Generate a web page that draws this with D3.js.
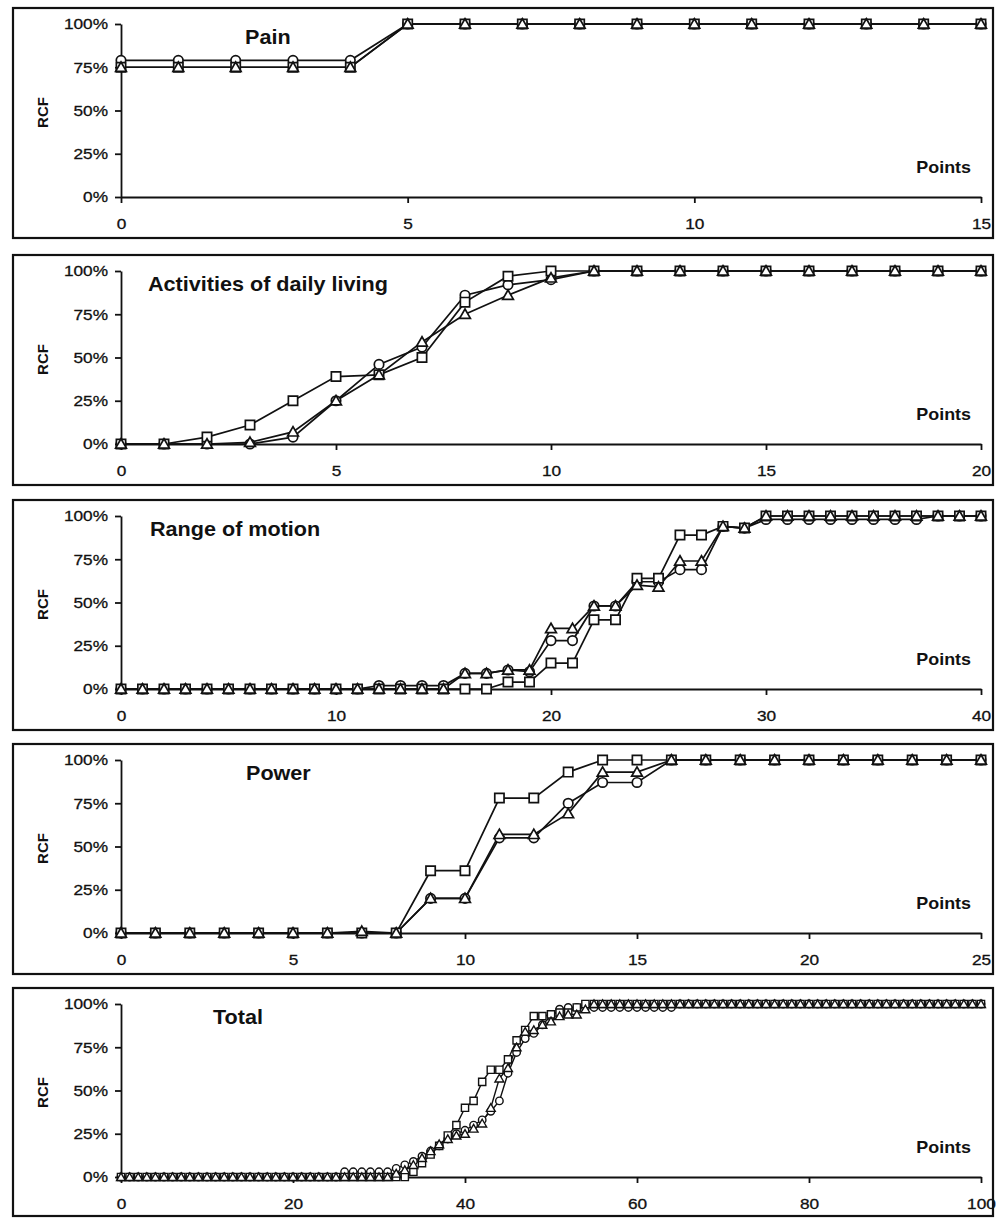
<!DOCTYPE html>
<html><head><meta charset="utf-8">
<script src="https://cdn.jsdelivr.net/npm/d3@7"></script>
<style>body{margin:0;background:#fff}svg{display:block}text{font-family:"Liberation Sans",Arial,sans-serif;fill:#111}</style>
</head><body><svg id="c" width="1002" height="1218"></svg>
<script>
// ---- data (index = points, values = RCF %) ----
const panelTitles = ["Pain","Activities of daily living","Range of motion","Power","Total"];
const yTicks = [0,25,50,75,100];
const painTicks = [0,5,10,15];
const adlTicks = [0,5,10,15,20];
const romTicks = [0,10,20,30,40];
const powTicks = [0,5,10,15,20,25];
const totTicks = [0,20,40,60,80,100];

const painCircle   = [79,79,79,79,79,100,100,100,100,100,100,100,100,100,100,100];
const painSquare   = [75,75,75,75,75,100,100,100,100,100,100,100,100,100,100,100];
const painTriangle = [75,75,75,75,75,100,100,100,100,100,100,100,100,100,100,100];

const adlCircle   = [0,0,0,0,4,25,46,56,86,92,95,100,100,100,100,100,100,100,100,100,100];
const adlSquare   = [0,0,4,11,25,39,40,50,82,97,100,100,100,100,100,100,100,100,100,100,100];
const adlTriangle = [0,0,0,1,7,25,40,59,75,86,96,100,100,100,100,100,100,100,100,100,100];

const romCircle   = [0,0,0,0,0,0,0,0,0,0,0,0,2,2,2,2,9,9,11,10,28,28,48,48,62,62,69,69,94,93,98,98,98,98,98,98,98,98,100,100,100];
const romSquare   = [0,0,0,0,0,0,0,0,0,0,0,0,0,0,0,0,0,0,4,4,15,15,40,40,64,64,89,89,94,93,100,100,100,100,100,100,100,100,100,100,100];
const romTriangle = [0,0,0,0,0,0,0,0,0,0,0,0,0,0,0,0,9,9,11,11,35,35,48,48,60,59,74,74,94,93,100,100,100,100,100,100,100,100,100,100,100];

const powCircle   = [0,0,0,0,0,0,0,0,0,20,20,55,55,75,87,87,100,100,100,100,100,100,100,100,100,100];
const powSquare   = [0,0,0,0,0,0,0,0,0,36,36,78,78,93,100,100,100,100,100,100,100,100,100,100,100,100];
const powTriangle = [0,0,0,0,0,0,0,1,0,20,20,57,57,69,93,93,100,100,100,100,100,100,100,100,100,100];

const totCircle = [
 0,0,0,0,0,0,0,0,0,0, 0,0,0,0,0,0,0,0,0,0, 0,0,0,0,0,0,3,3,3,3,
 3,3,5,7,9,12,15,18,22,25, 27,30,33,38,44,60,72,80,83,88, 93,97,98,98,98,98,98,98,98,98,
 98,98,98,98,98,100,100,100,100,100, 100,100,100,100,100,100,100,100,100,100,
 100,100,100,100,100,100,100,100,100,100, 100,100,100,100,100,100,100,100,100,100, 100];
const totSquare = [
 0,0,0,0,0,0,0,0,0,0, 0,0,0,0,0,0,0,0,0,0, 0,0,0,0,0,0,0,0,0,0,
 0,0,0,0,3,8,13,18,24,30, 40,44,55,62,62,68,79,85,93,93, 94,95,95,98,100,100,100,100,100,100,
 100,100,100,100,100,100,100,100,100,100, 100,100,100,100,100,100,100,100,100,100,
 100,100,100,100,100,100,100,100,100,100, 100,100,100,100,100,100,100,100,100,100, 100];
const totTriangle = [
 0,0,0,0,0,0,0,0,0,0, 0,0,0,0,0,0,0,0,0,0, 0,0,0,0,0,0,0,0,0,0,
 0,0,2,4,7,11,15,19,22,24, 25,28,31,40,57,63,75,84,85,88, 90,93,94,94,97,100,100,100,100,100,
 100,100,100,100,100,100,100,100,100,100, 100,100,100,100,100,100,100,100,100,100,
 100,100,100,100,100,100,100,100,100,100, 100,100,100,100,100,100,100,100,100,100, 100];

// ---- layout ----
const svg = d3.select("#c");
const X0 = 121, X1 = 981, FRAME_L = 13, FRAME_R = 993;
const panels = [
  {title:panelTitles[0], ticks:painTicks, c:painCircle, s:painSquare, t:painTriangle, top:8,   tx:245, small:false},
  {title:panelTitles[1], ticks:adlTicks,  c:adlCircle,  s:adlSquare,  t:adlTriangle,  top:255, tx:148, small:false},
  {title:panelTitles[2], ticks:romTicks,  c:romCircle,  s:romSquare,  t:romTriangle,  top:500, tx:150, small:false},
  {title:panelTitles[3], ticks:powTicks,  c:powCircle,  s:powSquare,  t:powTriangle,  top:744, tx:246, small:false},
  {title:panelTitles[4], ticks:totTicks,  c:totCircle,  s:totSquare,  t:totTriangle,  top:988, tx:213, small:true}
];

panels.forEach(p => {
  const plotTop = p.top + 16, plotBot = plotTop + 173;
  const frameBot = Math.min(plotBot + 41, 1216);
  const g = svg.append("g");
  g.append("rect").attr("x",FRAME_L).attr("y",p.top).attr("width",FRAME_R-FRAME_L).attr("height",frameBot-p.top)
    .attr("fill","none").attr("stroke","#111").attr("stroke-width",2.2);

  const xmax = p.ticks[p.ticks.length-1];
  const x = d3.scaleLinear().domain([0,xmax]).range([X0,X1]);
  const y = d3.scaleLinear().domain([0,100]).range([plotBot,plotTop]);

  // y axis
  const ya = g.append("g").attr("transform",`translate(${X0},0)`)
    .call(d3.axisLeft(y).tickValues(yTicks).tickSize(6).tickSizeOuter(0).tickFormat(d=>d+"%"));
  ya.select(".domain").attr("stroke","#111").attr("stroke-width",1.8);
  ya.selectAll(".tick line").attr("stroke","#111").attr("stroke-width",1.8);
  ya.selectAll(".tick text").attr("x",0).attr("font-size",15).attr("font-family",null)
    .attr("transform","translate(-13,0) scale(1.15,1)").attr("fill","#111")
    .attr("stroke","#111").attr("stroke-width",0.3);

  // x axis
  const xa = g.append("g").attr("transform",`translate(0,${plotBot})`)
    .call(d3.axisBottom(x).tickValues(p.ticks).tickSize(6).tickSizeOuter(0));
  xa.select(".domain").attr("stroke","#111").attr("stroke-width",1.8);
  xa.selectAll(".tick line").attr("stroke","#111").attr("stroke-width",1.8);
  xa.selectAll(".tick text").attr("y",0).attr("dy",0).attr("font-size",15).attr("font-family",null)
    .attr("transform","translate(0,32) scale(1.15,1)").attr("fill","#111")
    .attr("stroke","#111").attr("stroke-width",0.3);

  // labels
  g.append("text").attr("transform",`translate(48,${(plotTop+plotBot)/2+2}) rotate(-90)`)
    .attr("text-anchor","middle").attr("font-size",15).attr("font-weight","bold").text("RCF");
  g.append("text").attr("transform",`translate(${p.tx},${plotTop+20}) scale(1.08,1)`)
    .attr("font-size",20).attr("font-weight","bold").text(p.title);
  g.append("text").attr("transform",`translate(971,${plotBot-24}) scale(1.12,1)`)
    .attr("text-anchor","end").attr("font-size",16).attr("font-weight","bold").text("Points");

  // series
  const sz = p.small ? {c:44, s:52, t:34} : {c:70, s:86, t:50};
  const sw = p.small ? 1.4 : 1.7;
  const line = d3.line().x((d,i)=>x(i)).y(d=>y(d));
  const series = [
    {vals:p.c, sym:d3.symbolCircle, size:sz.c},
    {vals:p.s, sym:d3.symbolSquare, size:sz.s},
    {vals:p.t, sym:d3.symbolTriangle, size:sz.t}
  ];
  series.forEach(se => {
    g.append("path").datum(se.vals).attr("d",line).attr("fill","none").attr("stroke","#111").attr("stroke-width",sw);
  });
  series.forEach(se => {
    const sym = d3.symbol().type(se.sym).size(se.size);
    g.selectAll(null).data(se.vals).enter().append("path")
      .attr("d",sym)
      .attr("transform",(d,i)=>`translate(${x(i)},${y(d) + (se.sym===d3.symbolTriangle ? 1 : 0)})`)
      .attr("fill","#fff").attr("stroke","#111").attr("stroke-width",sw);
  });
});
</script></body></html>
